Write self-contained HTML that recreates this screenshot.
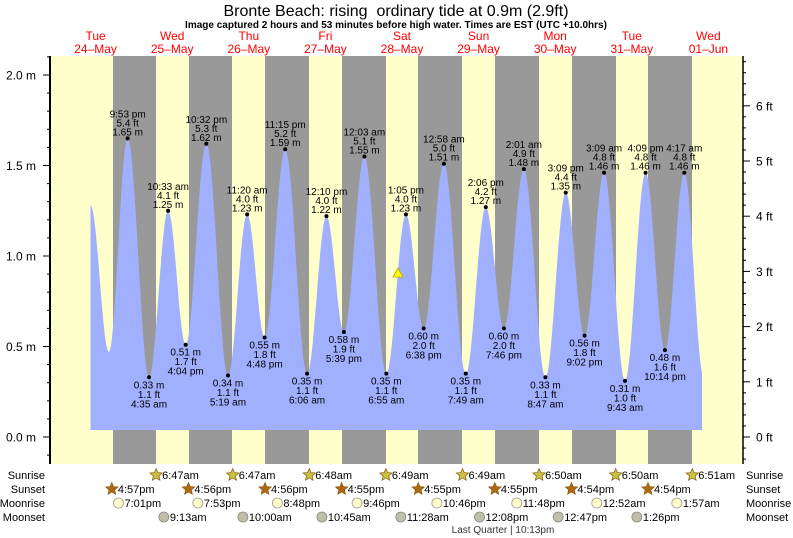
<!DOCTYPE html>
<html><head><meta charset="utf-8"><style>
body{margin:0;background:#fff;width:793px;height:538px;overflow:hidden}
svg{display:block;font-family:"Liberation Sans",sans-serif}
</style></head><body>
<svg id="s" width="793" height="538" xmlns="http://www.w3.org/2000/svg">
<text x="396" y="16" font-size="16" text-anchor="middle" fill="#000">Bronte Beach: rising&#160; ordinary tide at 0.9m (2.9ft)</text>
<text x="396" y="28" font-size="10" font-weight="bold" text-anchor="middle">Image captured 2 hours and 53 minutes before high water. Times are EST (UTC +10.0hrs)</text>
</svg>
<script>
const s=document.getElementById('s');const NS='http://www.w3.org/2000/svg';
function el(t,a,txt){const e=document.createElementNS(NS,t);for(const k in a)e.setAttribute(k,a[k]);if(txt!==undefined)e.textContent=txt;s.appendChild(e);return e;}
const X=(d,h)=>57.8+76.6*(d+h/24);const Y=m=>437-181*m;
const T=56,B=464,L=50,R=743;
el('rect',{x:L,y:T,width:R-L,height:B-T,fill:'#ffffcc'});
[[113,156],[189,232],[265,309],[342,386],[418,462],[495,539],[572,616],[648,692]].forEach(b=>el('rect',{x:b[0],y:T,width:b[1]-b[0],height:B-T,fill:'#999999'}));
const days=[['Tue','24\u2013May'],['Wed','25\u2013May'],['Thu','26\u2013May'],['Fri','27\u2013May'],['Sat','28\u2013May'],['Sun','29\u2013May'],['Mon','30\u2013May'],['Tue','31\u2013May'],['Wed','01\u2013Jun']];
days.forEach((d,i)=>{const x=X(i,12)-0.5;el('text',{x,y:40,'font-size':12,'text-anchor':'middle',fill:'#ff0000'},d[0]);el('text',{x,y:53,'font-size':12,'text-anchor':'middle',fill:'#ff0000'},d[1]);});
const ex=[[90.5,1.28],[108.9,0.47],
[X(0,21.88),1.65,'9:53 pm','5.4 ft','1.65 m'],[X(1,4.58),0.33,'4:35 am','1.1 ft','0.33 m'],[X(1,10.55),1.25,'10:33 am','4.1 ft','1.25 m'],[X(1,16.07),0.51,'4:04 pm','1.7 ft','0.51 m'],[X(1,22.53),1.62,'10:32 pm','5.3 ft','1.62 m'],
[X(2,5.32),0.34,'5:19 am','1.1 ft','0.34 m'],[X(2,11.33),1.23,'11:20 am','4.0 ft','1.23 m'],[X(2,16.8),0.55,'4:48 pm','1.8 ft','0.55 m'],[X(2,23.25),1.59,'11:15 pm','5.2 ft','1.59 m'],
[X(3,6.1),0.35,'6:06 am','1.1 ft','0.35 m'],[X(3,12.17),1.22,'12:10 pm','4.0 ft','1.22 m'],[X(3,17.65),0.58,'5:39 pm','1.9 ft','0.58 m'],[X(4,0.05),1.55,'12:03 am','5.1 ft','1.55 m'],
[X(4,6.92),0.35,'6:55 am','1.1 ft','0.35 m'],[X(4,13.08),1.23,'1:05 pm','4.0 ft','1.23 m'],[X(4,18.63),0.60,'6:38 pm','2.0 ft','0.60 m'],[X(5,0.97),1.51,'12:58 am','5.0 ft','1.51 m'],
[X(5,7.82),0.35,'7:49 am','1.1 ft','0.35 m'],[X(5,14.1),1.27,'2:06 pm','4.2 ft','1.27 m'],[X(5,19.77),0.60,'7:46 pm','2.0 ft','0.60 m'],[X(6,2.02),1.48,'2:01 am','4.9 ft','1.48 m'],
[X(6,8.78),0.33,'8:47 am','1.1 ft','0.33 m'],[X(6,15.15),1.35,'3:09 pm','4.4 ft','1.35 m'],[X(6,21.03),0.56,'9:02 pm','1.8 ft','0.56 m'],[X(7,3.15),1.46,'3:09 am','4.8 ft','1.46 m'],
[X(7,9.72),0.31,'9:43 am','1.0 ft','0.31 m'],[X(7,16.15),1.46,'4:09 pm','4.8 ft','1.46 m'],[X(7,22.23),0.48,'10:14 pm','1.6 ft','0.48 m'],[X(8,4.28),1.46,'4:17 am','4.8 ft','1.46 m'],[X(8,10.4),0.33]];
let pts=[[90.5,1.28]];
for(let i=0;i<ex.length-1;i++){const a=ex[i],b=ex[i+1];for(let k=1;k<=20;k++){const t=k/20;pts.push([a[0]+(b[0]-a[0])*t,a[1]+(b[1]-a[1])*(1-Math.cos(Math.PI*t))/2]);}}
pts=pts.filter(p=>p[0]<=702);
let d='M90.5,430 ';pts.forEach(p=>d+='L'+p[0].toFixed(1)+','+Y(p[1]).toFixed(1)+' ');d+='L702,'+Y(pts[pts.length-1][1]).toFixed(1)+' L702,430 Z';
el('path',{d,fill:'#a0b0ff'});
ex.forEach((e,i)=>{if(!e[2])return;const x=e[0],y=Y(e[1]);el('circle',{cx:x,cy:y,r:2,fill:'#000'});
const hi=e[1]>1;const fs={'font-size':10,'text-anchor':'middle',fill:'#000'};
if(hi){el('text',Object.assign({x,y:y-21},fs),e[2]);el('text',Object.assign({x,y:y-12},fs),e[3]);el('text',Object.assign({x,y:y-3},fs),e[4]);}
else{el('text',Object.assign({x,y:y+11},fs),e[4]);el('text',Object.assign({x,y:y+20.5},fs),e[3]);el('text',Object.assign({x,y:y+30},fs),e[2]);}});
el('polygon',{points:'398,268 393,277 403,277',fill:'#ffff00',stroke:'#c8a000','stroke-width':0.8});
el('line',{x1:L,y1:T,x2:L,y2:B,stroke:'#000','stroke-width':2});
el('line',{x1:R,y1:T,x2:R,y2:B,stroke:'#000','stroke-width':1.5});
for(let m=-0.1;m<=2.15;m+=0.1){const y=Y(m);if(y<T||y>B)continue;const maj=Math.abs(m*2-Math.round(m*2))<0.01;el('line',{x1:maj?43:47,y1:y,x2:L,y2:y,stroke:'#000','stroke-width':1});if(maj)el('text',{x:36,y:y+4.5,'font-size':12,'text-anchor':'end'},(Math.round(m*10)/10).toFixed(1)+' m');}
for(let f=-0.4;f<=6.9;f+=0.2){const y=437-55.2*f;if(y<T||y>B)continue;const maj=Math.abs(f-Math.round(f))<0.01;el('line',{x1:R,y1:y,x2:maj?750:746,y2:y,stroke:'#000','stroke-width':1});if(maj)el('text',{x:756,y:y+4.5,'font-size':12},Math.round(f)+' ft');}
['Sunrise','Sunset','Moonrise','Moonset'].forEach((n,i)=>{const y=479+14*i;el('text',{x:45,y,'font-size':11,'text-anchor':'end'},n);el('text',{x:746,y,'font-size':11},n);});
function star(x,y,f){let p='';for(let k=0;k<10;k++){const r=k%2?3:6.5,a=-Math.PI/2+k*Math.PI/5;p+=(x+r*Math.cos(a)).toFixed(1)+','+(y+r*Math.sin(a)).toFixed(1)+' ';}el('polygon',{points:p,fill:f,stroke:'#8a5a10','stroke-width':0.7});}
const fs2={'font-size':11};
['6:47am','6:47am','6:48am','6:49am','6:49am','6:50am','6:50am','6:51am'].forEach((t,i)=>{const x=X(i+1,6.8);star(x,475,'#c8c040');el('text',Object.assign({x:x+6,y:479},fs2),t);});
['4:57pm','4:56pm','4:56pm','4:55pm','4:55pm','4:55pm','4:54pm','4:54pm'].forEach((t,i)=>{const x=X(i,16.93);star(x,489,'#b06810');el('text',Object.assign({x:x+6,y:493},fs2),t);});
[[0,19.02,'7:01pm'],[1,19.88,'7:53pm'],[2,20.8,'8:48pm'],[3,21.77,'9:46pm'],[4,22.77,'10:46pm'],[5,23.8,'11:48pm'],[7,0.87,'12:52am'],[8,1.95,'1:57am']].forEach(m=>{const x=X(m[0],m[1]);el('circle',{cx:x,cy:503,r:5,fill:'#ffffcc',stroke:'#999','stroke-width':0.8});el('text',Object.assign({x:x+6,y:507},fs2),m[2]);});
[[1,9.22,'9:13am'],[2,10,'10:00am'],[3,10.75,'10:45am'],[4,11.47,'11:28am'],[5,12.13,'12:08pm'],[6,12.78,'12:47pm'],[7,13.43,'1:26pm']].forEach(m=>{const x=X(m[0],m[1]);el('circle',{cx:x,cy:517,r:5,fill:'#c0c0a8',stroke:'#888','stroke-width':0.8});el('text',Object.assign({x:x+6,y:521},fs2),m[2]);});
el('text',{x:503,y:533,'font-size':10,'text-anchor':'middle',fill:'#333'},'Last Quarter | 10:13pm');
</script>
</body></html>
